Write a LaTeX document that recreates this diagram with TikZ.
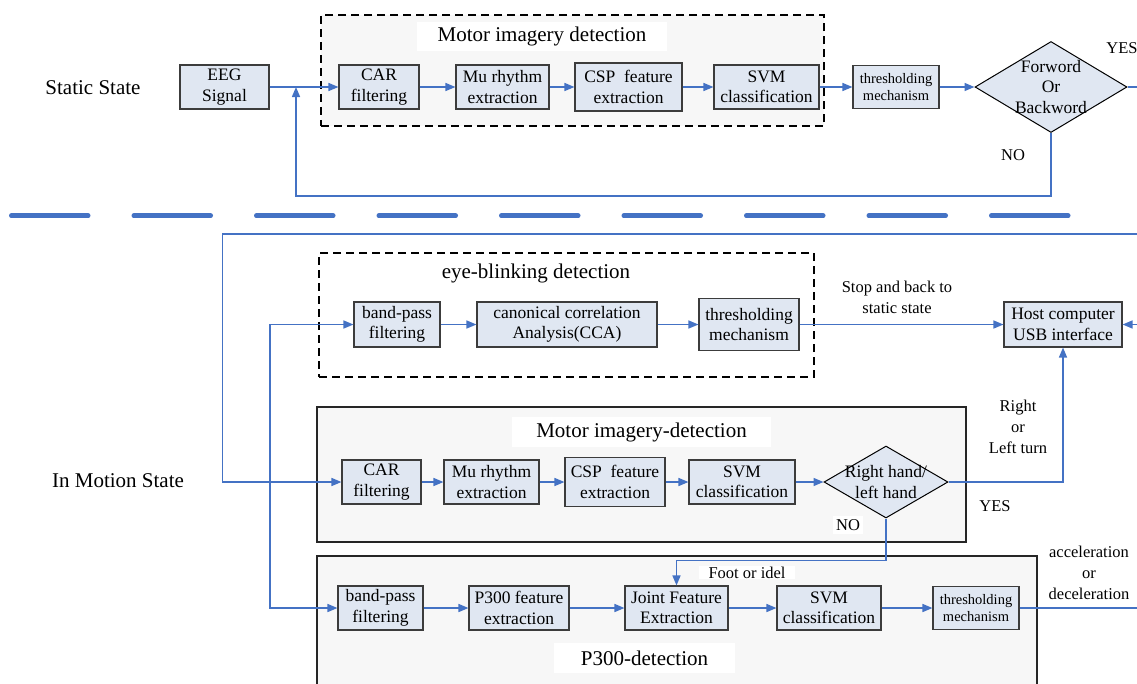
\documentclass[tikz,border=0pt]{standalone}
\usepackage{fontspec}
\setmainfont{Liberation Serif}
\usetikzlibrary{arrows.meta,shapes.geometric}
\definecolor{flowblue}{RGB}{68,114,196}
\definecolor{boxfill}{RGB}{224,231,242}
\definecolor{boxline}{RGB}{60,60,60}
\definecolor{panelfill}{RGB}{247,247,247}
\newcommand\fsz[2]{\fontsize{#1}{#2}\selectfont}
\begin{document}
\begin{tikzpicture}[x=1pt,y=-1pt,
 proc/.style={draw=boxline, fill=boxfill, line width=1.1pt, inner sep=0pt, align=center, font=\fsz{17.5}{20.5}},
 small/.style={font=\fsz{14.5}{16.5}},
 dia/.style={diamond, draw=black, fill=boxfill, line width=1pt, inner sep=0pt},
 diatext/.style={align=center, font=\fsz{17.5}{20.5}, inner sep=0pt},
 flow/.style={draw=flowblue, line width=1.5pt, -{Triangle[length=10pt,width=8pt]}},
 wire/.style={draw=flowblue, line width=1.5pt},
 dpanel/.style={draw=black, line width=1.3pt, dash pattern=on 8pt off 5pt},
 spanel/.style={draw=black!85, fill=panelfill, line width=1.3pt},
 lbl/.style={font=\fsz{16.5}{21}, align=center, inner sep=1pt},
 title/.style={font=\fsz{21}{24}, fill=white, inner sep=0pt},
 state/.style={font=\fsz{21}{24}},
 sep/.style={draw=flowblue, line width=4.5pt, line cap=round, dash pattern=on 77pt off 45.5pt}
]
\useasboundingbox (0,0) rectangle (1137,683);
\clip (0,0) rectangle (1137,683);

% ---------------- Static state ----------------
\node[state] (ss) at (93,88) {Static State};
\node[dpanel, fill=panelfill, minimum width=503, minimum height=111] (mi1) at (572.5,70.5) {};
\node[title, minimum width=250, minimum height=29] (t1) at (542,36.5) {Motor imagery detection};

\node[proc, minimum width=89, minimum height=44] (eeg) at (224.5,87) {EEG\\Signal};
\node[proc, minimum width=80, minimum height=44] (car1) at (379,87) {CAR\\filtering};
\node[proc, minimum width=93, minimum height=44] (mu1) at (502.5,87) {Mu rhythm\\extraction};
\node[proc, minimum width=107, minimum height=48] (csp1) at (628.5,87) {CSP\ \ feature\\extraction};
\node[proc, minimum width=105, minimum height=44] (svm1) at (766.5,87) {SVM\\classification};
\node[proc, small, minimum width=86, minimum height=43] (thr1) at (896,87) {thresholding\\mechanism};
\node[dia, minimum width=152, minimum height=91] (dia1) at (1051,87) {};
\node[diatext] (dia1t) at (1051,87) {Forword\\Or\\Backword};

\coordinate (m1) at (296,87);
\coordinate (e1) at (1140,87);
\draw[flow] (eeg) -- (car1);
\draw[flow] (car1) -- (mu1);
\draw[flow] (mu1) -- (csp1);
\draw[flow] (csp1) -- (svm1);
\draw[flow] (svm1) -- (thr1);
\draw[flow] (thr1) -- (dia1);
\draw[wire] (dia1.east) -- (e1);
\draw[flow] (dia1.south) -- ++(0,63) -| (m1);
\node[lbl] (yes1) at (1122,48) {YES};
\node[lbl] (no1) at (1013,155) {NO};

% separator
\coordinate (sepL) at (11.25,215.7);
\coordinate (sepR) at (1071,215.7);
\draw[sep] (sepL) -- (sepR);

% ---------------- In motion state ----------------
\node[state] (ms) at (118,481) {In Motion State};

% eye-blinking panel
\node[dpanel, fill=white, minimum width=495, minimum height=124] (eb) at (566.5,315) {};
\node[font=\fsz{21}{24}, inner sep=0pt] (t2) at (536,273) {eye-blinking detection};
\node[proc, minimum width=86, minimum height=45] (bp1) at (397,324.5) {band-pass\\filtering};
\node[proc, minimum width=180, minimum height=45] (cca) at (567,324.5) {canonical correlation\\Analysis(CCA)};
\node[proc, minimum width=100, minimum height=52] (thr2) at (749,324.5) {thresholding\\mechanism};
\node[proc, minimum width=118, minimum height=45] (host) at (1063,324.5) {Host computer\\USB interface};

% motor imagery panel
\node[spanel, minimum width=649, minimum height=135] (mi2) at (641.5,474.5) {};
\node[title, minimum width=259, minimum height=30] (t3) at (641.5,432) {Motor imagery-detection};
\node[proc, minimum width=79, minimum height=44] (car2) at (381.5,482) {CAR\\filtering};
\node[proc, minimum width=95, minimum height=44] (mu2) at (491.5,482) {Mu rhythm\\extraction};
\node[proc, minimum width=100, minimum height=49] (csp2) at (615,482) {CSP\ \ feature\\extraction};
\node[proc, minimum width=106, minimum height=44] (svm2) at (742,482) {SVM\\classification};
\node[dia, minimum width=124, minimum height=72] (dia2) at (886,482) {};
\node[diatext] (dia2t) at (886,482) {Right hand/\\left hand};
\node[lbl, fill=white, inner sep=3pt] (no2) at (848,525) {NO};

% P300 panel
\node[spanel, minimum width=720, minimum height=164] (p3) at (677,638) {};
\node[title, minimum width=181, minimum height=30] (t4) at (644.5,658) {P300-detection};
\node[proc, minimum width=85, minimum height=44] (bp2) at (380.5,608) {band-pass\\filtering};
\node[proc, minimum width=100, minimum height=44] (p300) at (519,608) {P300 feature\\extraction};
\node[proc, minimum width=103, minimum height=44] (joint) at (676.5,608) {Joint Feature\\Extraction};
\node[proc, minimum width=104, minimum height=44] (svm3) at (829,608) {SVM\\classification};
\node[proc, small, minimum width=86, minimum height=43] (thr3) at (976,608) {thresholding\\mechanism};
\node[lbl, fill=white, minimum width=96, inner sep=1pt] (foot) at (747,572.5) {Foot or idel};

% labels
\node[lbl] (stop) at (897,297) {Stop and back to\\static state};
\node[lbl] (turn) at (1018,427) {Right\\or\\Left turn};
\node[lbl] (yes2) at (995,506) {YES};
\node[lbl] (acc) at (1089,573) {acceleration\\or\\deceleration};

% connectors
\coordinate (e2) at (1140,234);
\coordinate (c2) at (222.5,234);
\coordinate (j) at (270,482);
\coordinate (e3) at (1140,324.5);
\coordinate (e4) at (1140,608);
\draw[flow] (e2) -- (c2) |- (car2.west);
\draw[flow] (j) |- (bp1.west);
\draw[flow] (j) |- (bp2.west);
\draw[flow] (bp1) -- (cca);
\draw[flow] (cca) -- (thr2);
\draw[flow] (thr2) -- (host);
\draw[flow] (e3) -- (host.east);
\draw[flow] (car2) -- (mu2);
\draw[flow] (mu2) -- (csp2);
\draw[flow] (csp2) -- (svm2);
\draw[flow] (svm2) -- (dia2);
\draw[flow] (dia2.east) -| (host.south);
\draw[flow] (dia2.south) -- ++(0,42) -| (joint.north);
\draw[flow] (bp2) -- (p300);
\draw[flow] (p300) -- (joint);
\draw[flow] (joint) -- (svm3);
\draw[flow] (svm3) -- (thr3);
\draw[wire] (thr3.east) -- (e4);
\end{tikzpicture}
\end{document}
